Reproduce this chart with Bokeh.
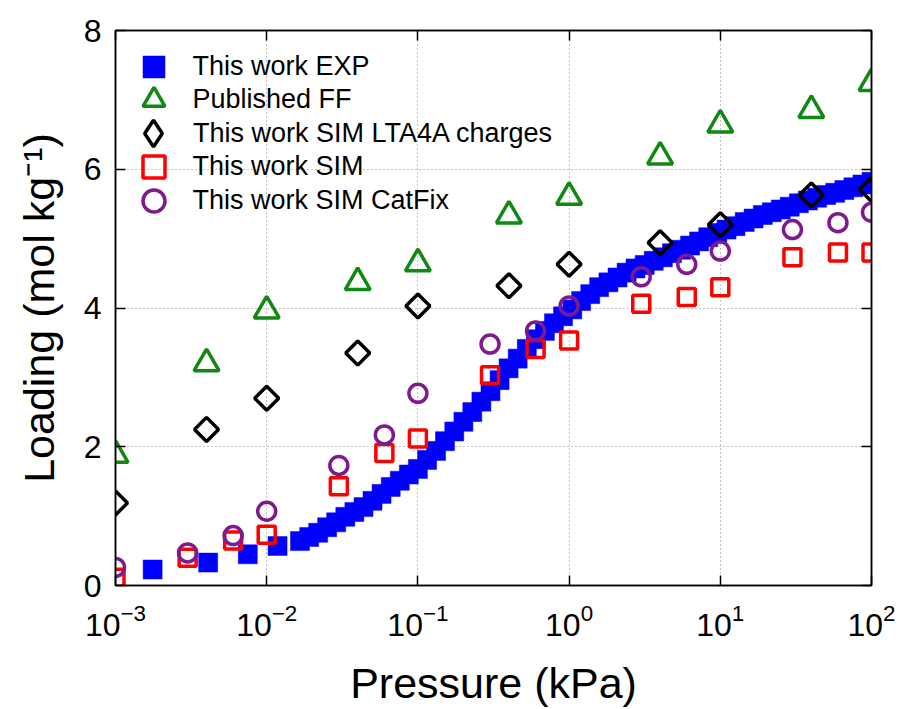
from bokeh.plotting import figure
from bokeh.models import (LogAxis, LinearAxis, Legend, LegendItem, Range1d,
                          FixedTicker, LogTicker)
from bokeh.embed import file_html
from bokeh.resources import INLINE

# ---------------- data ----------------
exp_p = [0.00176, 0.0041, 0.0075, 0.0118,
         0.0166, 0.0191, 0.0219, 0.0251, 0.0288, 0.0331, 0.0380, 0.0437,
         0.0501, 0.0575, 0.0661, 0.0759, 0.0871, 0.100, 0.115, 0.132,
         0.151, 0.174, 0.200, 0.229, 0.263, 0.302, 0.347, 0.398, 0.457,
         0.525, 0.603, 0.692, 0.794, 0.912, 1.05, 1.20, 1.38, 1.58, 1.82,
         2.09, 2.40, 2.75, 3.16, 3.63, 4.17, 4.79, 5.50, 6.31, 7.24, 8.32,
         9.55, 11.0, 12.6, 14.5, 16.6, 19.1, 21.9, 25.1, 28.8, 33.1, 38.0,
         43.7, 50.1, 57.5, 66.1, 75.9, 87.1, 100.0]
exp_q = [0.23, 0.33, 0.45, 0.57,
         0.64, 0.70, 0.76, 0.84, 0.91, 0.99, 1.06, 1.13,
         1.22, 1.32, 1.42, 1.51, 1.60, 1.68, 1.81, 1.94,
         2.08, 2.22, 2.36, 2.50, 2.65, 2.80, 2.96, 3.13, 3.27,
         3.41, 3.55, 3.67, 3.78, 3.88, 3.98, 4.10, 4.20, 4.30, 4.37,
         4.44, 4.51, 4.57, 4.62, 4.68, 4.73, 4.79, 4.84, 4.90, 4.96, 5.02,
         5.08, 5.13, 5.18, 5.24, 5.29, 5.34, 5.38, 5.42, 5.46, 5.51, 5.55,
         5.59, 5.63, 5.66, 5.70, 5.74, 5.78, 5.82]

ff_p = [0.001, 0.004, 0.01, 0.04, 0.1, 0.4, 1, 4, 10, 40, 100]
ff_q = [1.88, 3.20, 3.96, 4.37, 4.64, 5.33, 5.60, 6.18, 6.64, 6.85, 7.24]

lta_p = [0.001, 0.004, 0.01, 0.04, 0.1, 0.4, 1, 4, 10, 40, 100]
lta_q = [1.19, 2.25, 2.70, 3.35, 4.03, 4.32, 4.63, 4.94, 5.20, 5.63, 5.71]

sim_p = [0.001, 0.003, 0.006, 0.01, 0.03, 0.06, 0.1, 0.3, 0.6, 1, 3, 6, 10, 30, 60, 100]
sim_q = [0.11, 0.40, 0.65, 0.73, 1.43, 1.91, 2.12, 3.03, 3.41, 3.53, 4.06, 4.16, 4.30, 4.73, 4.80, 4.80]

cat_p = [0.001, 0.003, 0.006, 0.01, 0.03, 0.06, 0.1, 0.3, 0.6, 1, 3, 6, 10, 30, 60, 100]
cat_q = [0.26, 0.47, 0.72, 1.07, 1.73, 2.17, 2.77, 3.48, 3.67, 4.03, 4.45, 4.63, 4.82, 5.13, 5.23, 5.38]

series_labels = ["This work EXP", "Published FF", "This work SIM LTA4A charges",
                 "This work SIM", "This work SIM CatFix"]

y_ticks = [0, 2, 4, 6, 8]

FONT = "Liberation Sans"

p = figure(width=899, height=709, x_axis_type="log",
           x_range=Range1d(1e-3, 1e2), y_range=Range1d(0, 8),
           output_backend="svg", toolbar_location=None,
           min_border_left=115, min_border_right=28,
           min_border_top=30, min_border_bottom=121)
p.background_fill_color = "white"
p.border_fill_color = "white"
p.outline_line_color = "black"
p.outline_line_width = 1.5

# axes
for ax in (p.xaxis[0], p.yaxis[0]):
    ax.major_tick_in = 10
    ax.major_tick_out = 0
    ax.minor_tick_line_color = None
    ax.axis_line_color = "black"
    ax.axis_line_width = 1.5
    ax.major_tick_line_width = 1.5
    ax.major_label_text_font = FONT
    ax.major_label_text_font_size = "32px"
    ax.major_label_text_color = "black"
    ax.axis_label_text_font = FONT
    ax.axis_label_text_font_size = "43px"
    ax.axis_label_text_font_style = "normal"
    ax.axis_label_text_color = "black"

p.xaxis[0].axis_label = "Pressure (kPa)"
p.xaxis[0].major_label_standoff = 14
p.xaxis[0].axis_label_standoff = 20
p.yaxis[0].axis_label = "Loading (mol kg\u207b\u00b9)"
p.yaxis[0].ticker = FixedTicker(ticks=y_ticks)
p.yaxis[0].major_label_standoff = 14
p.yaxis[0].axis_label_standoff = 18

top = LogAxis(ticker=LogTicker(), major_tick_in=10, major_tick_out=0,
              minor_tick_line_color=None, major_label_text_color=None,
              axis_line_width=1.5, major_tick_line_width=1.5)
p.add_layout(top, "above")
right = LinearAxis(ticker=FixedTicker(ticks=y_ticks), major_tick_in=10, major_tick_out=0,
                   minor_tick_line_color=None, major_label_text_color=None,
                   axis_line_width=1.5, major_tick_line_width=1.5)
p.add_layout(right, "right")

# grid
p.xgrid.grid_line_color = "#888888"
p.xgrid.grid_line_dash = "1 3"
p.xgrid.grid_line_width = 1
p.ygrid.ticker = FixedTicker(ticks=y_ticks)
p.ygrid.grid_line_color = "#888888"
p.ygrid.grid_line_dash = "1 3"
p.ygrid.grid_line_width = 1

# series
r_exp = p.scatter(exp_p, exp_q, marker="square", size=19,
                  fill_color="#0000ff", line_color="#0000ff", line_width=0.5)
r_ff = p.scatter(ff_p, ff_q, marker="triangle", size=25, fill_color=None,
                 line_color="#118811", line_width=3.5)
r_lta = p.scatter(lta_p, lta_q, marker="square", angle=0.7854, size=17, fill_color=None,
                  line_color="black", line_width=3.5)
r_sim = p.scatter(sim_p, sim_q, marker="square", size=17, fill_color=None,
                  line_color="#ff0000", line_width=3.5)
r_cat = p.scatter(cat_p, cat_q, marker="circle", size=18, fill_color=None,
                  line_color="#7f1a8c", line_width=3.5)
# legend key for the diamonds (legends ignore marker angle); hidden from the plot
r_lta_key = p.scatter(lta_p, lta_q, marker="diamond", size=26, fill_color=None,
                      line_color="black", line_width=3.5, visible=False)

# one single-row legend per series, stacked at 33.6 px intervals
renderers = [r_exp, r_ff, r_lta_key, r_sim, r_cat]
glyph_boxes = [55, 55, 66, 55, 55]
row_center_px = 39.0     # distance from frame top to first row centre
row_step = 33.6
key_center_x = 38.0      # distance from frame left to key centre
label_left = 78.0        # distance from frame left to label start
frame_h = 558
for i, (lab, r, box) in enumerate(zip(series_labels, renderers, glyph_boxes)):
    bottom = frame_h - (row_center_px + i * row_step) - box / 2
    lg = Legend(items=[LegendItem(label=lab, renderers=[r])],
                location=(key_center_x - box / 2, bottom))
    lg.glyph_width = box
    lg.glyph_height = box
    lg.padding = 0
    lg.margin = 0
    lg.label_standoff = int(label_left - (key_center_x + box / 2))
    lg.label_text_font = FONT
    lg.label_text_font_size = "27px"
    lg.label_text_color = "black"
    lg.background_fill_alpha = 0
    lg.border_line_color = None
    lg.inactive_fill_alpha = 0
    p.add_layout(lg)

open("out.html", "w").write(file_html(p, INLINE))
